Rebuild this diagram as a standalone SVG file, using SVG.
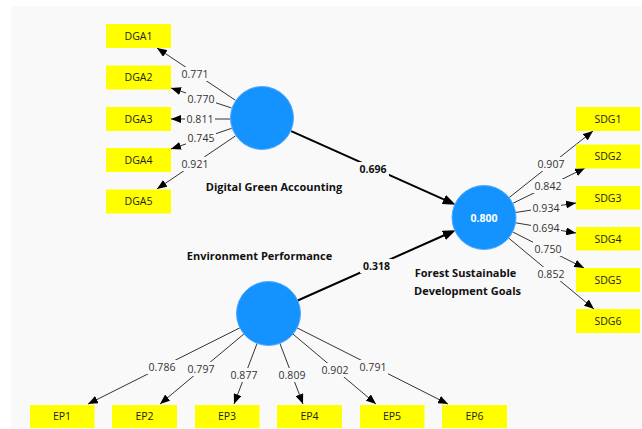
<svg xmlns="http://www.w3.org/2000/svg" width="642" height="429" viewBox="0 0 642 429">
<style>
.box{fill:#ffff00}
.bt{font-family:"Open Sans","Noto Sans",sans-serif;font-size:10.5px;fill:#222;text-anchor:middle}
.lv{fill:#1493ff;stroke:#4fa9ff;stroke-width:1}
.ln{stroke:#333;stroke-width:1;fill:none;marker-end:url(#ah)}
.pth{stroke:#000;stroke-width:2;fill:none;marker-end:url(#ahb)}
.lb{fill:#f9f9f9}
.lt{font-family:"Open Sans","Noto Sans",sans-serif;font-size:10.5px;fill:#333;text-anchor:middle}
.pt{font-family:"Open Sans","Noto Sans",sans-serif;font-size:10.5px;font-weight:bold;fill:#111;text-anchor:middle}
.nm{font-family:"Open Sans","Noto Sans",sans-serif;font-size:11px;font-weight:bold;fill:#111;text-anchor:middle}
.r2{font-family:"Open Sans","Noto Sans",sans-serif;font-size:10.5px;font-weight:bold;fill:#fff;text-anchor:middle}
</style>
<defs>
<marker id="ah" markerUnits="userSpaceOnUse" markerWidth="10" markerHeight="8" refX="10" refY="4" orient="auto"><path d="M0,0 L10,4 L0,8 z" fill="#000"/></marker>
<marker id="ahb" markerUnits="userSpaceOnUse" markerWidth="13" markerHeight="10" refX="6" refY="5" orient="auto"><path d="M0,0 L13,5 L0,10 z" fill="#000"/></marker>
</defs>
<rect x="0" y="0" width="642" height="429" fill="#ffffff"/>
<rect x="11" y="6" width="631" height="423" fill="#f9f9f9"/>

<g id="connectors">
<line class="ln" x1="235.4" y1="100.2" x2="157" y2="48"/>
<line class="ln" x1="231.6" y1="108" x2="171" y2="88"/>
<line class="ln" x1="230" y1="119" x2="171" y2="119"/>
<line class="ln" x1="231.7" y1="128.3" x2="171" y2="149"/>
<line class="ln" x1="235.5" y1="135.9" x2="157" y2="189"/>
<line class="ln" x1="509.1" y1="197.6" x2="593" y2="131"/>
<line class="ln" x1="512.7" y1="203.4" x2="585" y2="168"/>
<line class="ln" x1="515.6" y1="212.5" x2="576" y2="203"/>
<line class="ln" x1="515.6" y1="222.8" x2="576" y2="233"/>
<line class="ln" x1="512.6" y1="231.9" x2="584" y2="268"/>
<line class="ln" x1="508.6" y1="238" x2="594" y2="309"/>
<line class="ln" x1="239.9" y1="327.8" x2="88" y2="404"/>
<line class="ln" x1="243.9" y1="334" x2="160" y2="404"/>
<line class="ln" x1="257.1" y1="343.4" x2="234" y2="404"/>
<line class="ln" x1="279.9" y1="343.4" x2="303" y2="404"/>
<line class="ln" x1="293" y1="334.1" x2="376" y2="404"/>
<line class="ln" x1="297.1" y1="327.9" x2="448" y2="404"/>
<line class="pth" x1="291.2" y1="131.1" x2="449.3" y2="201.9"/>
<line class="pth" x1="297.7" y1="300.5" x2="449.3" y2="233"/>
<g id="loading-labels">
<rect class="lb" x="180" y="67" width="30" height="14"/><text class="lt" x="195" y="77.8">0.771</text>
<rect class="lb" x="186" y="92" width="30" height="14"/><text class="lt" x="201" y="102.8">0.770</text>
<rect class="lb" x="185" y="112" width="30" height="14"/><text class="lt" x="200" y="122.8">0.811</text>
<rect class="lb" x="186" y="131" width="30" height="14"/><text class="lt" x="201" y="141.8">0.745</text>
<rect class="lb" x="180" y="157" width="30" height="14"/><text class="lt" x="195" y="167.8">0.921</text>
<rect class="lb" x="536" y="157" width="30" height="14"/><text class="lt" x="551" y="167.8">0.907</text>
<rect class="lb" x="533" y="179" width="30" height="14"/><text class="lt" x="548" y="189.8">0.842</text>
<rect class="lb" x="531" y="201" width="30" height="14"/><text class="lt" x="546" y="211.8">0.934</text>
<rect class="lb" x="531" y="221" width="30" height="14"/><text class="lt" x="546" y="231.8">0.694</text>
<rect class="lb" x="533" y="242" width="30" height="14"/><text class="lt" x="548" y="252.8">0.750</text>
<rect class="lb" x="536" y="267" width="30" height="14"/><text class="lt" x="551" y="277.8">0.852</text>
<rect class="lb" x="147" y="360" width="30" height="14"/><text class="lt" x="162" y="370.8">0.786</text>
<rect class="lb" x="186" y="362" width="30" height="14"/><text class="lt" x="201" y="372.8">0.797</text>
<rect class="lb" x="229" y="368" width="30" height="14"/><text class="lt" x="244" y="378.8">0.877</text>
<rect class="lb" x="277" y="368" width="30" height="14"/><text class="lt" x="292" y="378.8">0.809</text>
<rect class="lb" x="320" y="363" width="30" height="14"/><text class="lt" x="335" y="373.8">0.902</text>
<rect class="lb" x="358" y="360" width="30" height="14"/><text class="lt" x="373" y="370.8">0.791</text>
<rect class="lb" x="357" y="162" width="32" height="14"/><text class="pt" x="373" y="173">0.696</text>
<rect class="lb" x="360" y="259" width="33" height="14"/><text class="pt" x="376.5" y="270">0.318</text>
</g>
</g>

<g id="DGA"><circle class="lv" cx="262" cy="118" r="31.5"/><text class="nm" x="274" y="191">Digital Green Accounting</text></g>
<g id="EP"><circle class="lv" cx="268.5" cy="313.5" r="32"/><text class="nm" x="259.5" y="260">Environment Performance</text></g>
<g id="FSDG"><circle class="lv" cx="484" cy="217.5" r="32"/><text class="r2" x="484" y="222">0.800</text><text class="nm" x="465.5" y="277">Forest Sustainable</text><text class="nm" x="467.5" y="295">Development Goals</text></g>

<g id="DGA1"><rect class="box" x="106" y="24" width="65" height="24"/><text class="bt" x="138.5" y="39.8">DGA1</text></g>
<g id="DGA2"><rect class="box" x="106" y="65.5" width="65" height="24"/><text class="bt" x="138.5" y="81.3">DGA2</text></g>
<g id="DGA3"><rect class="box" x="106" y="107" width="65" height="24"/><text class="bt" x="138.5" y="122.8">DGA3</text></g>
<g id="DGA4"><rect class="box" x="106" y="148" width="65" height="24"/><text class="bt" x="138.5" y="163.8">DGA4</text></g>
<g id="DGA5"><rect class="box" x="106" y="189.5" width="65" height="24"/><text class="bt" x="138.5" y="205.3">DGA5</text></g>

<g id="SDG1"><rect class="box" x="576" y="107" width="64" height="24"/><text class="bt" x="608" y="122.8">SDG1</text></g>
<g id="SDG2"><rect class="box" x="576" y="144.5" width="64" height="24"/><text class="bt" x="608" y="160.3">SDG2</text></g>
<g id="SDG3"><rect class="box" x="576" y="186" width="64" height="23.5"/><text class="bt" x="608" y="201.5">SDG3</text></g>
<g id="SDG4"><rect class="box" x="576" y="227" width="64" height="23.5"/><text class="bt" x="608" y="242.5">SDG4</text></g>
<g id="SDG5"><rect class="box" x="576" y="268" width="64" height="24"/><text class="bt" x="608" y="283.8">SDG5</text></g>
<g id="SDG6"><rect class="box" x="576" y="309" width="64" height="24"/><text class="bt" x="608" y="324.8">SDG6</text></g>

<g id="EP1"><rect class="box" x="30" y="405" width="64.5" height="23"/><text class="bt" x="62" y="420.3">EP1</text></g>
<g id="EP2"><rect class="box" x="112" y="405" width="65" height="23"/><text class="bt" x="144.5" y="420.3">EP2</text></g>
<g id="EP3"><rect class="box" x="195" y="405" width="64.5" height="23"/><text class="bt" x="227" y="420.3">EP3</text></g>
<g id="EP4"><rect class="box" x="277" y="405" width="65" height="23"/><text class="bt" x="309.5" y="420.3">EP4</text></g>
<g id="EP5"><rect class="box" x="360" y="405" width="64.5" height="23"/><text class="bt" x="392" y="420.3">EP5</text></g>
<g id="EP6"><rect class="box" x="442" y="405" width="65" height="23"/><text class="bt" x="474.5" y="420.3">EP6</text></g>
</svg>
